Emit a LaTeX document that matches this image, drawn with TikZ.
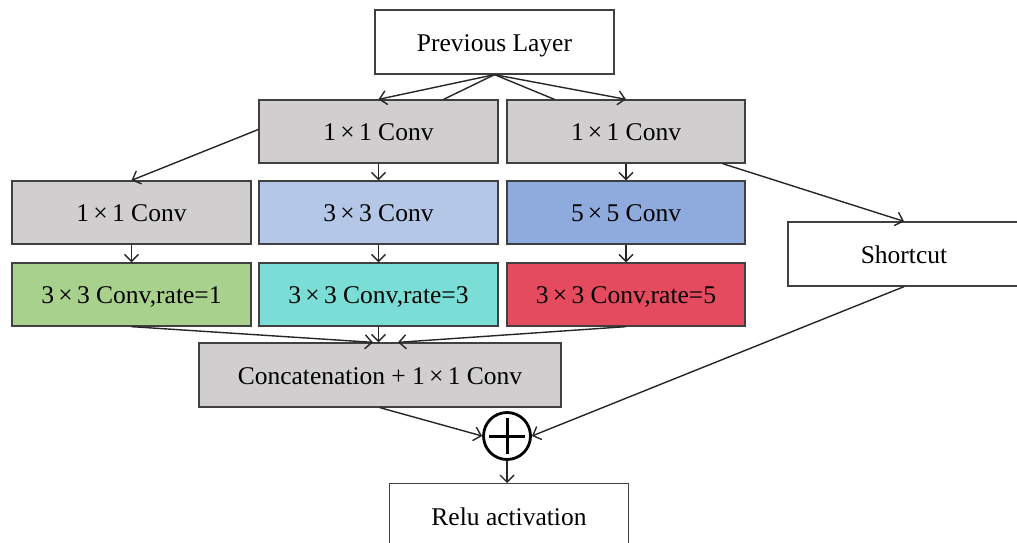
\documentclass[tikz,border=0pt]{standalone}
\usepackage{fontspec}
\setmainfont{Liberation Serif}
\usetikzlibrary{arrows.meta}
\definecolor{bgrey}{HTML}{D0CECE}
\definecolor{lblue}{HTML}{B4C7E7}
\definecolor{mblue}{HTML}{8FAADC}
\definecolor{lgreen}{HTML}{A9D18E}
\definecolor{lcyan}{HTML}{7BDED6}
\definecolor{lred}{HTML}{E54B5F}
\definecolor{edge}{HTML}{404040}
\tikzset{
  box/.style={draw=edge, line width=1.3pt, minimum width=239pt, minimum height=63pt, inner sep=0pt,
    font=\fontsize{25.5}{30}\selectfont, text=black, text height=23pt, text depth=4.2pt},
  arr/.style={draw=black!85, line width=1.4pt, -{Straight Barb[length=7pt,width=14pt,line width=1.4pt]}},
  ln/.style={draw=black!85, line width=1.4pt},
}
\begin{document}
\begin{tikzpicture}[x=1pt,y=-1pt]
\useasboundingbox[fill=white] (0,0) rectangle (1017,543);
\node[box, fill=white, minimum height=64pt] (prev) at (494.5,42) {Previous Layer};
\node[box, fill=bgrey] (c1a) at (378.5,131.5) {1\,×\,1 Conv};
\node[box, fill=bgrey, minimum width=238pt] (c1b) at (626,131.5) {1\,×\,1 Conv};
\node[box, fill=bgrey] (r2a) at (131.5,212.5) {1\,×\,1 Conv};
\node[box, fill=lblue] (r2b) at (378.5,212.5) {3\,×\,3 Conv};
\node[box, fill=mblue, minimum width=238pt] (r2c) at (626,212.5) {5\,×\,5 Conv};
\node[box, fill=lgreen] (r3a) at (131.5,294.5) {3\,×\,3 Conv,rate=1};
\node[box, fill=lcyan] (r3b) at (378.5,294.5) {3\,×\,3 Conv,rate=3};
\node[box, fill=lred, minimum width=238pt] (r3c) at (626,294.5) {3\,×\,3 Conv,rate=5};
\node[box, fill=white, minimum width=232pt, minimum height=64pt] (sc) at (904,254) {Shortcut};
\node[box, fill=bgrey, minimum width=362pt, minimum height=64pt] (cat) at (380,375) {Concatenation + 1\,×\,1 Conv};
\node[draw=black, line width=2.8pt, circle, minimum size=47pt, inner sep=0pt] (plus) at (507,436) {};
\draw[line width=3pt] ([xshift=-18pt]plus.center) -- ([xshift=18pt]plus.center)
  ([yshift=-18pt]plus.center) -- ([yshift=18pt]plus.center);
\node[box, fill=white, minimum height=64pt, anchor=north] (relu) at (509,483) {Relu activation};
% connectors
\draw[arr] (prev.south) -- (c1a.north);
\draw[arr] (prev.south) -- (c1b.north);
\draw[ln] (prev.south) -- ([xshift=-55pt]c1a.north east);
\draw[ln] (prev.south) -- ([xshift=48pt]c1b.north west);
\draw[arr] ([yshift=2pt]c1a.west) -- (r2a.north);
\draw[arr] (c1a.south) -- (r2b.north);
\draw[arr] (c1b.south) -- (r2c.north);
\draw[arr] ([xshift=-23pt]c1b.south east) -- (sc.north);
\draw[arr] (r2a.south) -- (r3a.north);
\draw[arr] (r2b.south) -- (r3b.north);
\draw[arr] (r2c.south) -- (r3c.north);
\draw[arr] (r3a.south) -- ([xshift=-7pt]cat.north);
\draw[arr] (r3b.south) -- (r3b.south |- cat.north);
\draw[arr] (r3c.south) -- ([xshift=18pt]cat.north);
\draw[arr] (cat.south) -- (plus.west);
\draw[arr] (sc.south) -- (plus.east);
\draw[arr] (plus.south) -- (plus.south |- relu.north);
\end{tikzpicture}
\end{document}
